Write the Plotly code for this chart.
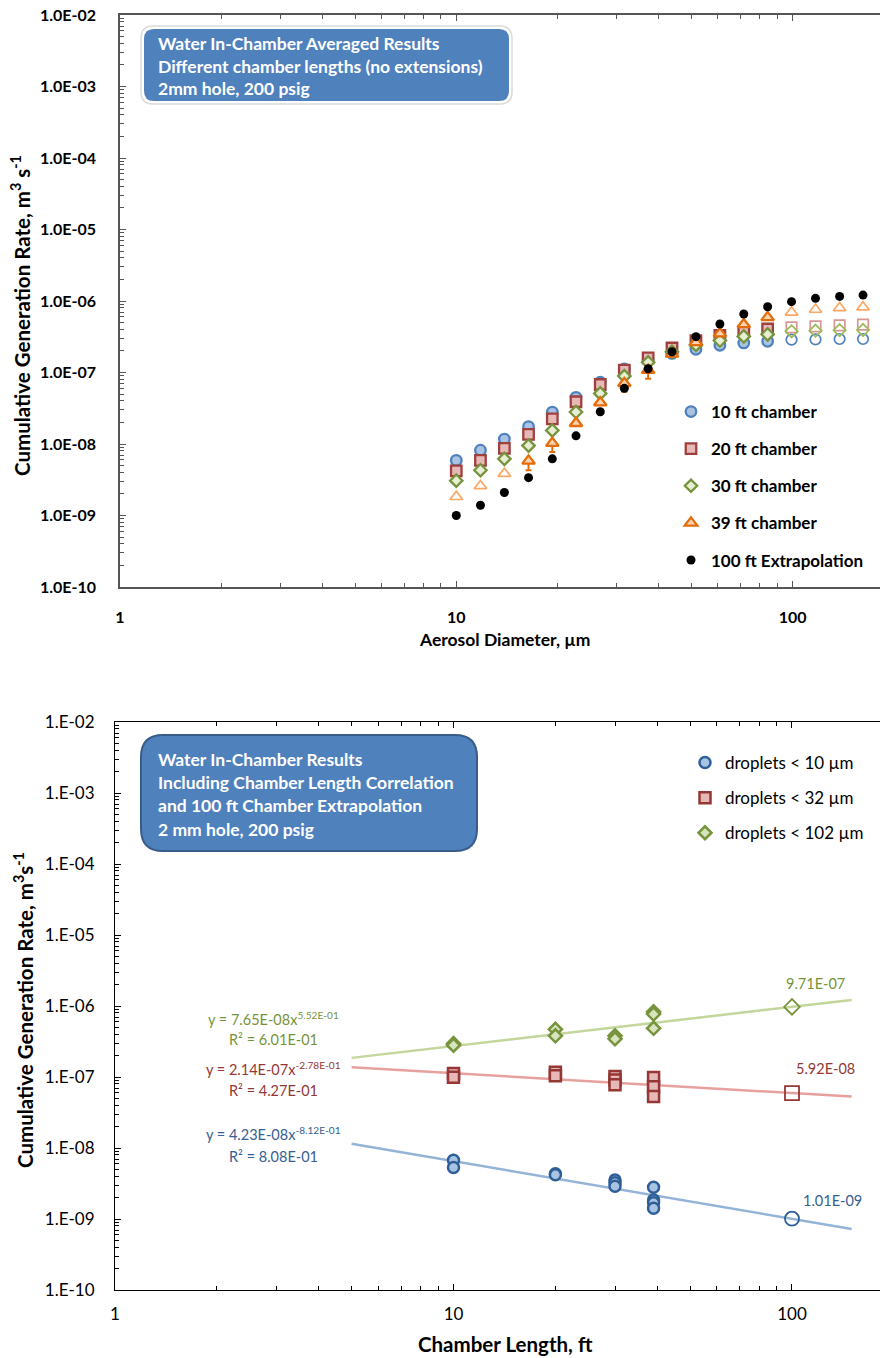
import plotly.graph_objects as go

# ---------------- Top chart data ----------------
diam_um = [10.0, 11.8, 13.9, 16.4, 19.3, 22.7, 26.8, 31.6, 37.2, 43.8,
           51.6, 60.8, 71.6, 84.3, 99.3, 117, 138, 162]
rate_10ft = [5.9e-9, 8.2e-9, 1.17e-8, 1.75e-8, 2.8e-8, 4.5e-8, 7.3e-8, 1.12e-7, 1.5e-7, 1.85e-7,
             2.11e-7, 2.4e-7, 2.59e-7, 2.73e-7, 2.88e-7, 2.9e-7, 2.94e-7, 2.94e-7]
rate_20ft = [4.2e-9, 5.9e-9, 8.7e-9, 1.36e-8, 2.24e-8, 3.9e-8, 6.8e-8, 1.08e-7, 1.6e-7, 2.2e-7,
             2.8e-7, 3.3e-7, 3.8e-7, 4.06e-7, 4.28e-7, 4.42e-7, 4.57e-7, 4.66e-7]
rate_30ft = [3.07e-9, 4.3e-9, 6.2e-9, 9.5e-9, 1.55e-8, 2.8e-8, 5.1e-8, 8.9e-8, 1.39e-7, 1.95e-7,
             2.43e-7, 2.8e-7, 3.2e-7, 3.42e-7, 3.77e-7, 3.84e-7, 3.9e-7, 3.93e-7]
rate_39ft = [1.83e-9, 2.59e-9, 3.85e-9, 5.8e-9, 1.03e-8, 1.95e-8, 3.8e-8, 7.06e-8, 1.08e-7, 1.82e-7,
             2.64e-7, 3.5e-7, 4.7e-7, 5.9e-7, 6.95e-7, 7.6e-7, 8.0e-7, 8.2e-7]
err_39ft_minus = [0, 0, 0, 1.5e-9, 2.6e-9, 0, 0, 1.7e-8, 2.6e-8, 0,
                  0, 0, 0, 0, 0, 0, 0, 0]
rate_100ft = [1.0e-9, 1.39e-9, 2.1e-9, 3.38e-9, 6.2e-9, 1.3e-8, 2.83e-8, 6.0e-8, 1.13e-7, 1.95e-7,
              3.17e-7, 4.77e-7, 6.58e-7, 8.3e-7, 9.8e-7, 1.09e-6, 1.16e-6, 1.21e-6]
# index ranges of measured (filled) vs. extrapolated (open) points
measured_10_30 = list(range(0, 14))
extrap_10_30 = list(range(14, 18))
measured_39 = list(range(3, 14))
extrap_39 = [0, 1, 2, 14, 15, 16, 17]

# ---------------- Bottom chart data ----------------
len_lt10 = [10, 10, 20, 20, 30, 30, 30, 39, 39, 39, 39]
rate_lt10 = [6.7e-9, 5.3e-9, 4.35e-9, 4.2e-9, 3.55e-9, 3.25e-9, 2.9e-9, 2.8e-9, 1.85e-9, 1.7e-9, 1.42e-9]
len_lt32 = [10, 10, 20, 20, 30, 30, 30, 39, 39, 39]
rate_lt32 = [1.12e-7, 9.9e-8, 1.17e-7, 1.04e-7, 1.02e-7, 9.1e-8, 7.8e-8, 9.8e-8, 7.3e-8, 5.3e-8]
len_lt102 = [10, 10, 20, 20, 30, 30, 39, 39, 39]
rate_lt102 = [2.95e-7, 2.8e-7, 4.7e-7, 3.8e-7, 3.8e-7, 3.45e-7, 8.3e-7, 7.7e-7, 4.85e-7]
extrap_len = [100]
extrap_lt10 = [1.01e-9]
extrap_lt32 = [5.92e-8]
extrap_lt102 = [9.71e-7]
fit_coef = [4.23e-8, 2.14e-7, 7.65e-8]
fit_exp = [-0.812, -0.278, 0.552]
fit_r2 = [0.808, 0.427, 0.601]
fit_x_range = [5, 150]

top_yticks = [1e-2, 1e-3, 1e-4, 1e-5, 1e-6, 1e-7, 1e-8, 1e-9, 1e-10]
top_yticktext = ["1.0E-02", "1.0E-03", "1.0E-04", "1.0E-05", "1.0E-06", "1.0E-07", "1.0E-08", "1.0E-09", "1.0E-10"]
bot_yticktext = ["1.E-02", "1.E-03", "1.E-04", "1.E-05", "1.E-06", "1.E-07", "1.E-08", "1.E-09", "1.E-10"]
xticks = [1, 10, 100]
xticktext = ["1", "10", "100"]

# the page body margin is removed by a post script, so figure pixels == page pixels
OFF = 0
W, H = 880 - OFF, 1358 - OFF
FONT = "Lato, 'Open Sans', sans-serif"

BLUE_F = "#A9C3E3"
RED_E, RED_F = "#953735", "#E6B9B8"
GRN_E, GRN_F = "#77933C", "#D7E4BD"
ORG_E, ORG_L = "#E46C0A", "#F9A866"


def pick(lst, idx):
    return [lst[i] for i in idx]


fig = go.Figure()

# ---------- top chart traces ----------
def top_series(name, ys, sym, edge, fill, open_edge, meas_idx, ext_idx, size=10.5):
    fig.add_trace(go.Scatter(
        x=pick(diam_um, meas_idx), y=pick(ys, meas_idx), mode="markers", name=name,
        legend="legend", legendgroup=name,
        marker=dict(symbol=sym, size=size, color=fill, line=dict(color=edge, width=2.3)),
        xaxis="x", yaxis="y"))
    fig.add_trace(go.Scatter(
        x=pick(diam_um, ext_idx), y=pick(ys, ext_idx), mode="markers", showlegend=False,
        marker=dict(symbol=sym + "-open", size=size, color=open_edge, line=dict(width=1.7)),
        xaxis="x", yaxis="y"))


top_series("10 ft chamber", rate_10ft, "circle", "#4F81BD", BLUE_F, "#4F81BD", measured_10_30, extrap_10_30)
top_series("20 ft chamber", rate_20ft, "square", "#A0403E", RED_F, "#D99694", measured_10_30, extrap_10_30)
top_series("30 ft chamber", rate_30ft, "diamond", GRN_E, "#E6EFD3", "#9BBB59", measured_10_30, extrap_10_30, size=9.5)

fig.add_trace(go.Scatter(
    x=pick(diam_um, measured_39), y=pick(rate_39ft, measured_39), mode="markers", name="39 ft chamber",
    legend="legend", legendgroup="39",
    marker=dict(symbol="triangle-up", size=11, color="#FBD4B4", line=dict(color=ORG_E, width=2.3)),
    error_y=dict(type="data", symmetric=False, array=[0] * len(measured_39),
                 arrayminus=pick(err_39ft_minus, measured_39), color=ORG_E, thickness=2, width=3),
    xaxis="x", yaxis="y"))
fig.add_trace(go.Scatter(
    x=pick(diam_um, extrap_39), y=pick(rate_39ft, extrap_39), mode="markers", showlegend=False,
    marker=dict(symbol="triangle-up-open", size=11, color=ORG_L, line=dict(width=1.7)),
    xaxis="x", yaxis="y"))
fig.add_trace(go.Scatter(
    x=diam_um, y=rate_100ft, mode="markers", name="100 ft Extrapolation",
    legend="legend", legendgroup="100",
    marker=dict(symbol="circle", size=9, color="#000000"),
    xaxis="x", yaxis="y"))

# ---------- bottom chart traces ----------
line_cols = ["#95B3D7", "#E6A09E", "#C3D69B"]
text_cols = ["#376092", "#953735", "#77933C"]
for a, b, c in zip(fit_coef, fit_exp, line_cols):
    fig.add_trace(go.Scatter(
        x=fit_x_range, y=[a * xv ** b for xv in fit_x_range], mode="lines", showlegend=False,
        line=dict(color=c, width=2.5), xaxis="x2", yaxis="y2", hoverinfo="skip"))

bot_specs = [
    ("droplets < 10 \u00b5m", len_lt10, rate_lt10, extrap_lt10, "circle", "#2F5F97", BLUE_F),
    ("droplets < 32 \u00b5m", len_lt32, rate_lt32, extrap_lt32, "square", RED_E, RED_F),
    ("droplets < 102 \u00b5m", len_lt102, rate_lt102, extrap_lt102, "diamond", GRN_E, GRN_F),
]
for name, xs, ys, ext, sym, edge, fill in bot_specs:
    fig.add_trace(go.Scatter(
        x=xs, y=ys, mode="markers", name=name, legend="legend2", legendgroup=name,
        marker=dict(symbol=sym, size=11 if sym != "diamond" else 10, color=fill, line=dict(color=edge, width=2.5)),
        xaxis="x2", yaxis="y2"))
    fig.add_trace(go.Scatter(
        x=extrap_len, y=ext, mode="markers", showlegend=False,
        marker=dict(symbol=sym + "-open", size=14 if sym != "diamond" else 12, color=edge, line=dict(width=1.8)),
        xaxis="x2", yaxis="y2"))


def px2x(px):
    """page x pixel -> paper fraction"""
    return (px - OFF) / W


def px2y(py):
    """page y pixel -> paper fraction"""
    return 1 - (py - OFF) / H


minor_vals = [m * 10 ** e for e in range(-11, 3) for m in range(2, 10)]


def axis_common(axcol, lw):
    return dict(type="log", showgrid=False, zeroline=False, showline=True, linecolor=axcol, linewidth=lw,
                ticks="inside", ticklen=6, tickcolor=axcol, tickwidth=1, automargin=False,
                ticklabeloverflow="allow",
                minor=dict(tickvals=minor_vals, ticks="inside", ticklen=4, tickcolor=axcol, showgrid=False))


top_axcol = "#555555"
xa = axis_common(top_axcol, 1.5)
xa.update(domain=[px2x(120), 1.0], range=[0, 2.26], anchor="y", mirror="ticks",
          tickvals=xticks, ticktext=xticktext,
          tickfont=dict(family=FONT, size=16, weight="bold", color="#000"), ticklabelstandoff=15)
ya = axis_common(top_axcol, 1.5)
ya.update(domain=[px2y(587), px2y(15)], range=[-10, -2], anchor="x",
          tickvals=top_yticks, ticktext=top_yticktext,
          tickfont=dict(family=FONT, size=16, weight="bold", color="#000"), ticklabelstandoff=19)

xb = axis_common("#000000", 1.2)
xb.update(domain=[px2x(115), 1.0], range=[0, 2.26], anchor="y2", mirror="ticks",
          tickvals=xticks, ticktext=xticktext,
          tickfont=dict(family=FONT, size=17, color="#000"), ticklabelstandoff=8)
yb = axis_common("#000000", 1.2)
yb.update(domain=[px2y(1290), px2y(722)], range=[-10, -2], anchor="x2",
          tickvals=top_yticks, ticktext=bot_yticktext,
          tickfont=dict(family=FONT, size=17, color="#000"), ticklabelstandoff=16)


def rrect(x0, y0, x1, y1, r):
    X = lambda v: f"{px2x(v):.5f}"
    Y = lambda v: f"{px2y(v):.5f}"
    return (f"M {X(x0 + r)},{Y(y0)} L {X(x1 - r)},{Y(y0)} Q {X(x1)},{Y(y0)} {X(x1)},{Y(y0 + r)} "
            f"L {X(x1)},{Y(y1 - r)} Q {X(x1)},{Y(y1)} {X(x1 - r)},{Y(y1)} "
            f"L {X(x0 + r)},{Y(y1)} Q {X(x0)},{Y(y1)} {X(x0)},{Y(y1 - r)} "
            f"L {X(x0)},{Y(y0 + r)} Q {X(x0)},{Y(y0)} {X(x0 + r)},{Y(y0)} Z")


shapes = [
    dict(type="path", xref="paper", yref="paper", path=rrect(141, 26, 512, 104, 12),
         line=dict(color="#DADADA", width=1.5), fillcolor="rgba(0,0,0,0)"),
    dict(type="path", xref="paper", yref="paper", path=rrect(143, 28, 510, 102, 11),
         line=dict(color="#FFFFFF", width=2), fillcolor="#4F81BD"),
    dict(type="path", xref="paper", yref="paper", path=rrect(141, 735, 477, 851, 22),
         line=dict(color="#385D8A", width=2), fillcolor="#4F81BD"),
]

annotations = []
box_top_lines = ["Water In-Chamber Averaged Results", "Different chamber lengths (no extensions)",
                 "2mm hole, 200 psig"]
for i, t in enumerate(box_top_lines):
    annotations.append(dict(text=t, x=px2x(156), y=px2y(43 + i * 23), xref="paper", yref="paper",
                            xanchor="left", yanchor="middle", showarrow=False,
                            font=dict(family=FONT, size=17.5, color="#FFFFFF", weight="bold")))
box_bot_lines = ["Water In-Chamber Results", "Including Chamber Length Correlation",
                 "and 100 ft Chamber Extrapolation", "2 mm hole, 200 psig"]
for i, t in enumerate(box_bot_lines):
    annotations.append(dict(text=t, x=px2x(156), y=px2y(759 + i * 23.4), xref="paper", yref="paper",
                            xanchor="left", yanchor="middle", showarrow=False,
                            font=dict(family=FONT, size=17.5, color="#FFFFFF", weight="bold")))

# axis titles
annotations += [
    dict(text="Cumulative Generation Rate, m<sup>3</sup> s<sup>-1</sup>", x=px2x(20), y=px2y(316),
         xref="paper", yref="paper", textangle=-90, showarrow=False, xanchor="center", yanchor="middle",
         font=dict(family=FONT, size=20.5, weight="bold", color="#000")),
    dict(text="Aerosol Diameter, \u00b5m", x=px2x(505), y=px2y(639), xref="paper", yref="paper",
         showarrow=False, xanchor="center", yanchor="middle",
         font=dict(family=FONT, size=17.5, weight="bold", color="#000")),
    dict(text="Cumulative Generation Rate, m<sup>3</sup>s<sup>-1</sup>", x=px2x(23), y=px2y(1010),
         xref="paper", yref="paper", textangle=-90, showarrow=False, xanchor="center", yanchor="middle",
         font=dict(family=FONT, size=20.5, weight="bold", color="#000")),
    dict(text="Chamber Length, ft", x=px2x(505), y=px2y(1344), xref="paper", yref="paper",
         showarrow=False, xanchor="center", yanchor="middle",
         font=dict(family=FONT, size=20.5, weight="bold", color="#000")),
]

# trendline equation labels
eq_pos = [(1133, 1156), (1068, 1090), (1018, 1039)]
for (ye, yr), a, b, r2, col in zip(eq_pos, fit_coef, fit_exp, fit_r2, text_cols):
    annotations.append(dict(text=f"y = {a:.2E}x<sup>{b:.2E}</sup>", x=px2x(273), y=px2y(ye),
                            xref="paper", yref="paper", showarrow=False, xanchor="center", yanchor="middle",
                            font=dict(family=FONT, size=14.5, color=col)))
    annotations.append(dict(text=f"R\u00b2 = {r2:.2E}", x=px2x(273), y=px2y(yr),
                            xref="paper", yref="paper", showarrow=False, xanchor="center", yanchor="middle",
                            font=dict(family=FONT, size=14.5, color=col)))

for val, col, (px, py) in [(extrap_lt32[0], text_cols[1], (825, 1068)), (extrap_lt10[0], text_cols[0], (832, 1200))]:
    annotations.append(dict(text=f"{val:.2E}", x=px2x(px), y=px2y(py), xref="paper", yref="paper",
                            showarrow=False, xanchor="center", yanchor="middle",
                            font=dict(family=FONT, size=14.5, color=col)))
annotations.append(dict(text=f"{extrap_lt102[0]:.2E}", x=px2x(815), y=px2y(983), xref="paper", yref="paper",
                        showarrow=False, xanchor="center", yanchor="middle",
                        font=dict(family=FONT, size=14.5, color=text_cols[2])))

fig.update_layout(
    width=W, height=H, margin=dict(l=0, r=0, t=0, b=0),
    paper_bgcolor="#FFFFFF", plot_bgcolor="#FFFFFF",
    xaxis=xa, yaxis=ya, xaxis2=xb, yaxis2=yb,
    shapes=shapes, annotations=annotations,
    legend=dict(x=px2x(671), y=px2y(394), xanchor="left", yanchor="top", bgcolor="rgba(0,0,0,0)",
                font=dict(family=FONT, size=17, weight="bold", color="#000"), tracegroupgap=12,
                itemclick=False),
    legend2=dict(x=px2x(685), y=px2y(745), xanchor="left", yanchor="top", bgcolor="rgba(0,0,0,0)",
                 font=dict(family=FONT, size=17, color="#000"), tracegroupgap=10, itemclick=False),
    showlegend=True,
)

fig.write_html("out.html", config={"displayModeBar": False},
               post_script="document.body.style.margin='0px';document.body.style.overflow='hidden';")
